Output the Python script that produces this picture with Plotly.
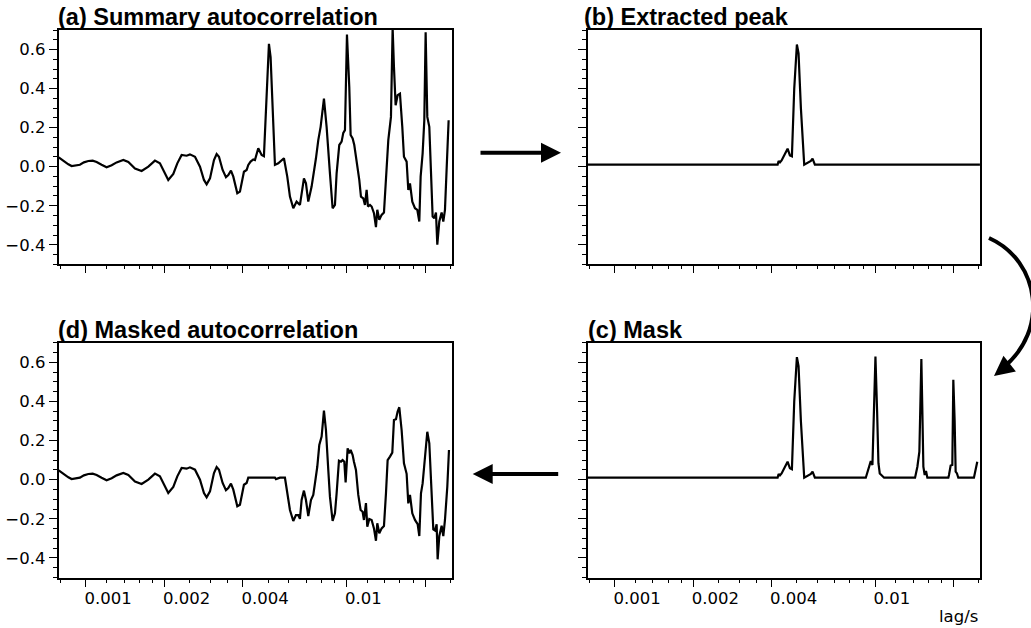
import math
import plotly.graph_objects as go

W, H = 1031, 628

# ---------------- data (lag in ms, value) ----------------
lag_a_ms = [0.786, 0.807, 0.831, 0.856, 0.881, 0.916, 0.948, 0.982, 1.021, 1.061,
            1.099, 1.148, 1.200, 1.255, 1.311, 1.391, 1.454, 1.542, 1.635, 1.735,
            1.839, 1.922, 2.009, 2.069, 2.163, 2.241, 2.328, 2.433, 2.506, 2.620,
            2.738, 2.836, 2.904, 2.991, 3.098, 3.172, 3.238, 3.344, 3.444, 3.516,
            3.600, 3.675, 3.807, 3.897, 4.037, 4.134, 4.195, 4.282, 4.384, 4.449,
            4.582, 4.719, 4.817, 4.932, 5.035, 5.109, 5.201, 5.309, 5.468, 5.631,
            5.748, 5.920, 6.061, 6.243, 6.429, 6.621, 6.720, 6.859, 6.982, 7.127,
            7.340, 7.493, 7.627, 7.786, 7.948, 8.185, 8.380, 8.630, 8.836, 9.020,
            9.154, 9.372, 9.567, 9.710, 9.854, 10.03, 10.238, 10.36, 10.545, 10.70,
            10.923, 11.183, 11.35, 11.586, 11.758, 11.933, 12.074, 12.289, 12.472, 12.731,
            12.958, 13.112, 13.346, 13.624, 13.908, 14.156, 14.451, 14.795, 15.014, 15.192,
            15.417, 15.692, 16.019, 16.352, 16.595, 16.991, 17.243, 17.499, 17.864, 18.29,
            18.671, 19.004, 19.229, 19.571, 19.862, 20.097, 20.395, 20.759, 21.067, 21.379,
            21.696, 22.018, 22.279, 22.676, 23.148, 23.491, 23.839, 24.193, 24.624]
summary_ac = [0.048, 0.037, 0.020, 0.012, 0.003, 0.005, 0.010, 0.022, 0.029, 0.031,
              0.024, 0.010, -0.003, 0.007, 0.022, 0.034, 0.024, -0.009, -0.022, 0.000,
              0.031, 0.017, -0.034, -0.068, -0.037, 0.017, 0.060, 0.056, 0.063, 0.051,
              0.000, -0.068, -0.090, -0.060, 0.034, 0.065, 0.051, -0.017, -0.054, -0.043,
              -0.020, -0.051, -0.136, -0.128, -0.026, -0.017, 0.009, 0.026, 0.037, 0.034,
              0.094, 0.060, 0.054, 0.408, 0.629, 0.561, 0.255, 0.009, 0.017, 0.034,
              0.043, -0.051, -0.153, -0.213, -0.179, -0.196, -0.136, -0.060, -0.085, -0.179,
              -0.102, -0.034, 0.043, 0.136, 0.204, 0.349, 0.204, -0.034, -0.213, -0.196,
              -0.034, 0.111, 0.128, 0.173, 0.187, 0.677, 0.408, 0.162, 0.145, 0.111,
              0.034, -0.068, -0.153, -0.162, -0.196, -0.119, -0.204, -0.196, -0.204, -0.238,
              -0.310, -0.221, -0.272, -0.247, -0.235, -0.051, 0.136, 0.255, 0.710, 0.510,
              0.315, 0.366, 0.374, 0.204, 0.051, 0.026, -0.119, -0.085, -0.179, -0.213,
              -0.221, -0.281, -0.051, 0.068, 0.238, 0.689, 0.255, 0.204, -0.017, -0.255,
              -0.264, -0.235, -0.400, -0.281, -0.235, -0.281, -0.221, -0.017, 0.238]

lag_b_ms = [0.786, 4.220, 4.257, 4.308, 4.371, 4.475, 4.609, 4.705, 4.789, 4.889,
            5.005, 5.079, 5.185, 5.340, 5.500, 5.664, 5.748, 5.868, 25.285]
extracted_peak = [0.010, 0.010, 0.029, 0.022, 0.032, 0.058, 0.092, 0.058, 0.053, 0.400,
                  0.626, 0.580, 0.300, 0.010, 0.019, 0.029, 0.041, 0.010, 0.010]

lag_c_ms = [0.786, 4.220, 4.257, 4.308, 4.371, 4.475, 4.609, 4.705, 4.789, 4.889,
            5.005, 5.079, 5.185, 5.340, 5.500, 5.664, 5.748, 5.868,
            9.208, 9.483, 9.624, 9.767, 9.883, 10.03, 10.178, 10.299, 10.421, 10.607, 10.828,
            14.240, 14.537, 14.795, 14.970, 15.058, 15.192, 15.326, 15.508, 15.692, 15.878,
            19.116, 19.229, 19.513, 19.804, 19.979, 20.216, 20.395, 20.637, 20.881,
            23.980, 24.336, 24.697]
mask = [0.010, 0.010, 0.029, 0.022, 0.032, 0.058, 0.092, 0.058, 0.053, 0.400,
        0.626, 0.580, 0.300, 0.010, 0.019, 0.029, 0.041, 0.010,
        0.010, 0.066, 0.095, 0.075, 0.350, 0.629, 0.350, 0.084, 0.032, 0.024, 0.010,
        0.010, 0.066, 0.143, 0.400, 0.617, 0.350, 0.066, 0.024, 0.044, 0.010,
        0.010, 0.024, 0.072, 0.075, 0.510, 0.300, 0.041, 0.032, 0.010,
        0.010, 0.049, 0.092]

lag_d_ms = [0.786, 0.807, 0.831, 0.856, 0.881, 0.916, 0.948, 0.982, 1.021, 1.061,
            1.099, 1.148, 1.200, 1.255, 1.311, 1.391, 1.454, 1.542, 1.635, 1.735,
            1.839, 1.922, 2.009, 2.069, 2.163, 2.241, 2.328, 2.433, 2.506, 2.620,
            2.738, 2.836, 2.904, 2.991, 3.098, 3.172, 3.238, 3.344, 3.444, 3.516,
            3.600, 3.675, 3.807, 3.897, 4.037, 4.134, 4.195, 4.282, 4.932, 5.309,
            5.356, 5.549, 5.799, 5.920, 6.061, 6.243, 6.391, 6.524, 6.621, 6.720,
            6.859, 6.982, 7.127, 7.297, 7.449, 7.559, 7.717, 7.855, 8.018, 8.185,
            8.331, 8.504, 8.630, 8.836, 9.020, 9.154, 9.345, 9.511, 9.652, 9.796,
            9.912, 10.089, 10.238, 10.36, 10.545, 10.669, 10.859, 11.085, 11.316, 11.518,
            11.655, 11.863, 12.003, 12.217, 12.472, 12.731, 12.958, 13.112, 13.346, 13.624,
            13.908, 14.156, 14.366, 14.665, 14.970, 15.192, 15.463, 15.692, 15.925, 16.256,
            16.595, 16.991, 17.243, 17.499, 17.864, 18.29, 18.726, 19.004, 19.286, 19.571,
            19.979, 20.395, 20.759, 21.067, 21.505, 21.824, 22.148, 22.344, 22.676, 23.148,
            23.491, 23.839, 24.336, 24.697]
masked_ac = [0.048, 0.037, 0.020, 0.012, 0.003, 0.005, 0.010, 0.022, 0.029, 0.031,
             0.024, 0.010, -0.003, 0.007, 0.022, 0.034, 0.024, -0.009, -0.022, 0.000,
             0.031, 0.017, -0.034, -0.068, -0.037, 0.017, 0.060, 0.056, 0.063, 0.051,
             0.000, -0.068, -0.090, -0.060, 0.034, 0.065, 0.051, -0.017, -0.054, -0.043,
             -0.020, -0.051, -0.136, -0.128, -0.026, -0.017, 0.010, 0.010, 0.010, 0.010,
             0.003, 0.010, 0.010, -0.070, -0.155, -0.211, -0.181, -0.181, -0.200, -0.104,
             -0.056, -0.104, -0.186, -0.104, -0.078, -0.019, 0.066, 0.177, 0.220, 0.353,
             0.254, 0.050, -0.087, -0.211, -0.172, -0.070, 0.097, 0.092, 0.100, 0.092,
             -0.014, 0.160, 0.135, 0.152, 0.126, 0.092, 0.050, -0.078, -0.155, -0.164,
             -0.206, -0.120, -0.240, -0.201, -0.206, -0.249, -0.312, -0.223, -0.274, -0.249,
             -0.237, -0.070, 0.100, 0.118, 0.138, 0.305, 0.309, 0.348, 0.370, 0.254,
             0.084, 0.030, -0.121, -0.078, -0.172, -0.206, -0.227, -0.288, -0.070, -0.019,
             0.135, 0.245, 0.186, 0.015, -0.254, -0.260, -0.228, -0.407, -0.288, -0.235,
             -0.288, -0.206, -0.036, 0.152]

x_tick_vals = [0.001, 0.002, 0.004, 0.01, 0.02]
x_tick_text = ["0.001", "0.002", "0.004", "0.01", ""]
x_minor_vals = [0.0008, 0.0012, 0.0014, 0.0016, 0.0018, 0.0025, 0.003, 0.0035,
                0.005, 0.006, 0.007, 0.008, 0.009, 0.012, 0.014, 0.016, 0.018, 0.025]
y_tick_vals = [-0.4, -0.2, 0.0, 0.2, 0.4, 0.6]
titles = ["(a) Summary autocorrelation", "(b) Extracted peak", "(c) Mask",
          "(d) Masked autocorrelation"]
x_range_s = [0.000786, 0.0253]
y_range = [-0.5, 0.7]


def s(lst):
    return [v / 1000.0 for v in lst]


def px(x):
    return x / W


def py(y):
    return 1 - y / H


TITLE_FONT = "Arial, Liberation Sans, Helvetica, sans-serif"
TICK_FONT = "DejaVu Sans, Verdana, sans-serif"
TICK_SIZE = 16.5

fig = go.Figure()
series = [(lag_a_ms, summary_ac, "x", "y"),
          (lag_b_ms, extracted_peak, "x2", "y2"),
          (lag_c_ms, mask, "x3", "y3"),
          (lag_d_ms, masked_ac, "x4", "y4")]
for lx, vy, xa, ya in series:
    fig.add_trace(go.Scatter(x=s(lx), y=vy, mode="lines", xaxis=xa, yaxis=ya,
                             line=dict(color="black", width=2.2), showlegend=False,
                             hoverinfo="skip"))

xr = [math.log10(x_range_s[0]), math.log10(x_range_s[1])]

left_dom = [px(58.7), px(451.7)]
right_dom = [px(587.7), px(980)]
top_dom = [py(264.3), py(30)]
bot_dom = [py(577.5), py(342.7)]

panels = {
    1: (left_dom, top_dom, False, True),
    2: (right_dom, top_dom, False, False),
    3: (right_dom, bot_dom, True, False),
    4: (left_dom, bot_dom, True, True),
}

layout = dict(width=W, height=H, margin=dict(l=0, r=0, t=0, b=0),
              paper_bgcolor="white", plot_bgcolor="white",
              font=dict(family=TICK_FONT, color="black", size=TICK_SIZE), showlegend=False)

for i, (xd, yd, xlab, ylab) in panels.items():
    sfx = "" if i == 1 else str(i)
    layout["xaxis" + sfx] = dict(
        domain=xd, anchor="y" + sfx, type="log", range=xr,
        tickmode="array", tickvals=x_tick_vals, ticktext=x_tick_text,
        showticklabels=xlab, ticks="outside", ticklen=7, tickwidth=1, tickcolor="black",
        ticklabelposition="outside right", ticklabelshift=-3, ticklabelstandoff=5,
        showline=True, linecolor="black", linewidth=2, mirror=True,
        showgrid=False, zeroline=False,
        tickfont=dict(size=TICK_SIZE, family=TICK_FONT, color="black"),
        minor=dict(tickmode="array", tickvals=x_minor_vals, ticks="outside", ticklen=3,
                   tickwidth=1, tickcolor="black", showgrid=False),
    )
    layout["yaxis" + sfx] = dict(
        domain=yd, anchor="x" + sfx, range=y_range,
        tickmode="array", tickvals=y_tick_vals, tickformat=".1f",
        showticklabels=ylab, ticks="outside", ticklen=8, tickwidth=1, tickcolor="black",
        showline=True, linecolor="black", linewidth=2, mirror=True,
        showgrid=False, zeroline=False,
        tickfont=dict(size=TICK_SIZE, family=TICK_FONT, color="black"),
        minor=dict(dtick=0.05, tick0=0, ticks="outside", ticklen=4, tickwidth=1,
                   tickcolor="black", showgrid=False),
    )

fig.update_layout(**layout)

title_pos = [(57, 31), (582.5, 31), (586.5, 343.5), (57, 343.5)]
for t, (tx, ty) in zip(titles, title_pos):
    fig.add_annotation(text="<b>" + t + "</b>", x=px(tx), y=py(ty), xref="paper", yref="paper",
                       xanchor="left", yanchor="bottom", showarrow=False,
                       font=dict(size=23.5, family=TITLE_FONT, color="black"), borderpad=0)

fig.add_annotation(text="lag/s", x=px(980), y=py(616), xref="paper", yref="paper",
                   xanchor="right", yanchor="middle", showarrow=False,
                   font=dict(size=TICK_SIZE, family=TICK_FONT, color="black"))

# arrows
arrow_common = dict(xref="paper", yref="paper", axref="pixel", ayref="pixel",
                    showarrow=True, arrowhead=2, arrowwidth=4, arrowsize=1,
                    arrowcolor="black", text="", standoff=0)
fig.add_annotation(x=px(561), y=py(152.7), ax=-82, ay=0, **arrow_common)
fig.add_annotation(x=px(472.7), y=py(474), ax=87, ay=0, **arrow_common)


def P(x, y):
    return "%.5f,%.5f" % (px(x), py(y))


path = "M " + P(989, 238) + " C " + P(1040.5, 261.2) + " " + P(1049.2, 330.8) + " " + P(1003, 367.5)
fig.add_shape(type="path", path=path, xref="paper", yref="paper",
              line=dict(color="black", width=4))
fig.add_annotation(x=px(994), y=py(376), ax=12, ay=-9.5, **arrow_common)

fig.write_html("out.html")
